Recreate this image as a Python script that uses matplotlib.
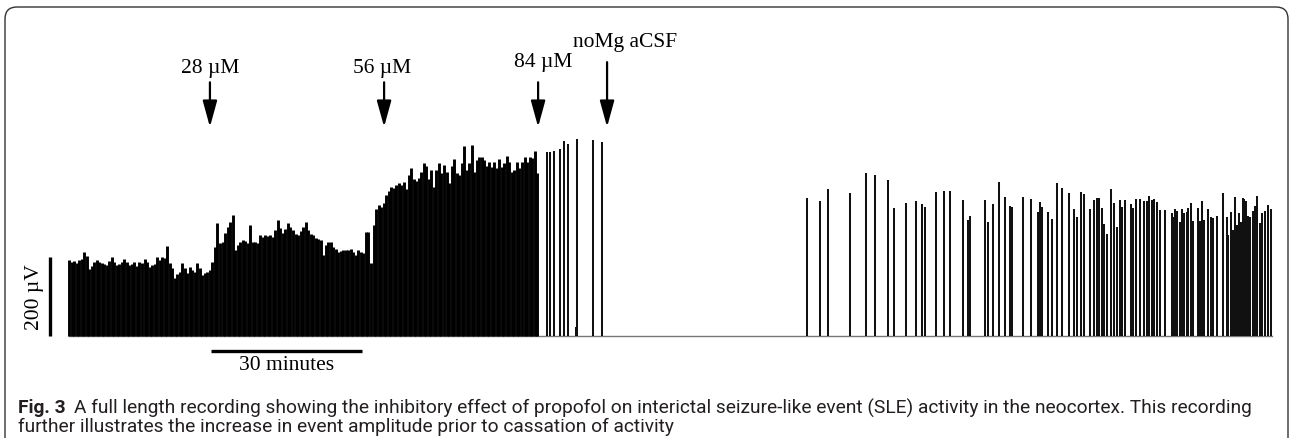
import numpy as np
import matplotlib.pyplot as plt
from matplotlib.patches import FancyBboxPatch

# dense part of the recording: one event every 0.5 min from t = 0 (amplitudes in uV)
dense_start = 0.0
dense_step = 0.5
dense_amp = [191, 185, 188, 183, 190, 194, 211, 202, 168, 175,
             185, 190, 186, 183, 180, 178, 188, 199, 185, 178,
             180, 185, 193, 186, 178, 182, 186, 175, 185, 183,
             193, 185, 173, 178, 181, 199, 190, 199, 195, 226,
             183, 170, 146, 155, 161, 183, 170, 159, 173, 166,
             162, 183, 172, 153, 158, 161, 166, 186, 223, 284,
             234, 236, 260, 275, 287, 305, 216, 228, 236, 242,
             238, 234, 279, 237, 236, 234, 254, 250, 254, 252,
             254, 249, 268, 292, 272, 259, 270, 285, 275, 267,
             258, 254, 265, 275, 287, 267, 258, 254, 247, 244,
             242, 204, 230, 237, 237, 224, 218, 211, 214, 216,
             216, 216, 219, 212, 204, 216, 211, 208, 262, 262,
             184, 280, 320, 331, 326, 336, 355, 365, 376, 374,
             381, 386, 381, 389, 370, 406, 423, 397, 391, 400,
             413, 437, 428, 397, 418, 376, 420, 437, 411, 431,
             413, 386, 430, 447, 411, 406, 437, 479, 418, 437,
             482, 413, 444, 452, 452, 444, 430, 439, 426, 439,
             423, 447, 426, 437, 455, 439, 413, 418, 439, 423,
             440, 452, 439, 452, 449, 467, 411]

# isolated events (time in min, amplitude in uV)
sparse_t = [95.0, 95.6, 96.4, 97.6, 98.4, 99.1, 100.7, 100.9, 104.1, 105.9,
            146.6, 149.2, 150.8, 155.2, 158.3, 160.1, 162.7, 163.9, 166.3, 168.3,
            169.5, 170.1, 172.3, 173.8, 175.0, 177.6, 178.6, 179.0, 182.0, 182.6,
            183.6, 184.8, 186.0, 187.0, 187.4, 189.5, 191.1, 192.5, 192.9, 193.3,
            194.5, 195.3, 196.3, 197.3, 198.7, 199.7, 200.3, 201.1, 201.7, 202.9,
            203.6, 204.2, 204.6, 205.2, 205.6, 206.2, 207.0, 207.6, 208.2, 208.8,
            209.2, 209.8, 211.0, 211.4, 212.0, 212.8, 213.6, 214.2, 214.6, 215.2,
            215.6, 216.2, 216.8, 217.8, 219.1, 219.3, 219.7, 220.1, 220.7, 221.1,
            221.5, 222.1, 222.3, 222.9, 223.3, 224.3, 224.7, 225.1, 225.5, 226.3,
            226.9, 227.3, 228.1, 229.3, 230.1, 230.3, 230.9, 231.3, 231.7, 232.1,
            232.5, 232.9, 233.3, 233.4, 233.8, 234.2, 234.6, 235.2, 235.6, 236.0,
            236.6, 237.0, 237.6, 238.2, 238.8]
sparse_amp = [465, 465, 467, 472, 492, 485, 22, 497, 495, 490,
              348, 341, 371, 361, 411, 406, 394, 323, 335, 341,
              333, 325, 363, 366, 366, 343, 292, 303, 343, 287,
              333, 389, 351, 328, 325, 351, 346, 313, 338, 325,
              313, 295, 386, 373, 361, 320, 300, 363, 358, 320,
              343, 348, 348, 323, 282, 257, 371, 335, 275, 343,
              325, 343, 333, 323, 346, 346, 341, 341, 353, 343,
              346, 338, 318, 318, 310, 300, 320, 315, 287, 320,
              310, 313, 323, 335, 290, 323, 290, 341, 292, 320,
              300, 298, 303, 361, 300, 254, 313, 267, 351, 280,
              310, 287, 348, 346, 341, 303, 300, 315, 328, 353,
              285, 310, 315, 330, 320]

drug_times = [28.0, 62.6, 93.2, 106.9]
drug_labels = ['28 \u00b5M', '56 \u00b5M', '84 \u00b5M', 'noMg aCSF']

caption_bold = 'Fig. 3'
caption_1 = ('A full length recording showing the inhibitory effect of propofol on interictal '
             'seizure-like event (SLE) activity in the neocortex. This recording')
caption_2 = 'further illustrates the increase in event amplitude prior to cassation of activity'

# pixel mapping of the original figure
W, H = 1290, 438
X0, Y0 = 69, 335.5
px_per_min = 151 / 30
px_per_uv = 79 / 200

fig = plt.figure(figsize=(W / 100, H / 100), dpi=100)
ax = fig.add_axes([0, 0, 1, 1])
ax.set_xlim(-X0 / px_per_min, (W - X0) / px_per_min)
ax.set_ylim((Y0 - H) / px_per_uv, Y0 / px_per_uv)
ax.axis('off')

dense_t = dense_start + dense_step * np.arange(len(dense_amp))
ax.plot([0, sparse_t[-1] + 0.3], [0, 0], color='#777777', lw=1.0, zorder=1)
ax.vlines(dense_t, 0, dense_amp, color='black', lw=2.1, zorder=2)
ax.vlines(sparse_t, 0, sparse_amp, color='#111111', lw=1.45, zorder=2)

serif = 'Liberation Serif'
tails = [641, 641, 641, 692]
label_x = [28.0, 62.2, 94.2, 110.5]
label_y = [677, 677, 690, 743]
for t, lab, tail, lx, ly in zip(drug_times, drug_labels, tails, label_x, label_y):
    ax.annotate('', xy=(t, 528), xytext=(t, tail),
                arrowprops=dict(arrowstyle='-|>,head_length=0.8,head_width=0.22',
                                color='black', lw=1.6, mutation_scale=20,
                                shrinkA=0, shrinkB=0))
    ax.text(lx, ly, lab, ha='center', va='center', fontsize=15.5, family=serif)

# scale bars
ax.plot([-3.78, -3.78], [0, 200], color='black', lw=2.4, solid_capstyle='butt')
ax.text(-6.9, 97, '200 \u00b5V', rotation=90, ha='center', va='center',
        fontsize=15.5, family=serif)
ax.plot([28.2, 58.2], [-39, -39], color='black', lw=2.4, solid_capstyle='butt')
ax.text(43.2, -77, '30 minutes', ha='center', va='center', fontsize=15.5, family=serif)

# frame and caption
frame = FancyBboxPatch((5, -40), 1283, H - 7 + 40, boxstyle='round,pad=0,rounding_size=12',
                       transform=None, fill=False, edgecolor='#333333', lw=1.0)
fig.add_artist(frame)

cap_font = 'Roboto'
cap_color = '#231f20'
cap_size = 13.8
bold = fig.text(18 / W, 1 - 408 / H, caption_bold, ha='left', va='center', fontsize=cap_size,
                family=cap_font, weight='bold', color=cap_color)
fig.canvas.draw()
x_end = bold.get_window_extent().x1
fig.text((x_end + 8) / W, 1 - 408 / H, caption_1, ha='left', va='center', fontsize=cap_size,
         family=cap_font, color=cap_color)
fig.text(18 / W, 1 - 427 / H, caption_2, ha='left', va='center', fontsize=cap_size,
         family=cap_font, color=cap_color)

fig.savefig('out.png', dpi=100)
